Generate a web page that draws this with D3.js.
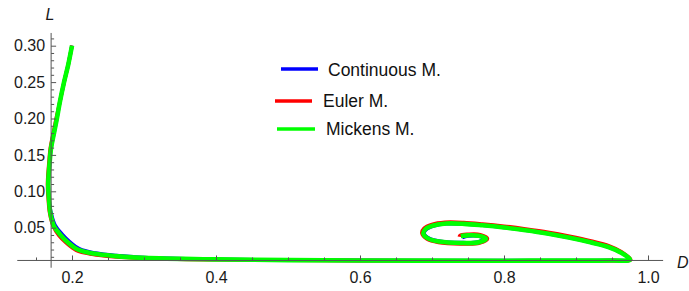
<!DOCTYPE html>
<html>
<head>
<meta charset="utf-8">
<script src="https://cdn.jsdelivr.net/npm/d3@7"></script>
<style>
  html, body { margin: 0; padding: 0; background: #fff; }
  svg { display: block; font-family: "Liberation Sans", Arial, sans-serif; }
</style>
</head>
<body>
<svg id="chart" width="689" height="291"></svg>
<script>
// ---------------- DATA ----------------
const xMajorTicks = [0.2, 0.4, 0.6, 0.8, 1.0];
const xMinorTicks = [0.15, 0.25, 0.3, 0.35, 0.45, 0.5, 0.55, 0.65, 0.7, 0.75, 0.85, 0.9, 0.95];
const yMajorTicks = [0.05, 0.10, 0.15, 0.20, 0.25, 0.30];
const yMinorTicks = [0.01,0.02,0.03,0.04,0.06,0.07,0.08,0.09,0.11,0.12,0.13,0.14,0.16,0.17,0.18,0.19,0.21,0.22,0.23,0.24,0.26,0.27,0.28,0.29,0.31];

const seriesNames = ["Continuous M.", "Euler M.", "Mickens M."];
const seriesColors = ["#0000ff", "#ff0000", "#00ff00"];

// Continuous model trajectory (D, L)
const contD = [0.200,0.195,0.189,0.183,0.179,0.175,0.171,0.169,0.167,0.168,0.171,0.1768,0.1865,0.1965,0.2105,0.2325,0.2615,0.300,0.400,0.500,0.600,0.700,0.800,0.900,0.950,0.975,0.962,0.945,0.920,0.890,0.860,0.830,0.800,0.770,0.745,0.720,0.703,0.692,0.689,0.696,0.711,0.740,0.764,0.773,0.764,0.750,0.742];
const contL = [0.300,0.275,0.250,0.222,0.200,0.180,0.160,0.140,0.110,0.090,0.070,0.0528,0.0408,0.0308,0.0208,0.0152,0.0116,0.0089,0.0066,0.0056,0.0051,0.0049,0.0048,0.0049,0.0051,0.006,0.016,0.0235,0.030,0.0365,0.042,0.0465,0.0503,0.0533,0.0551,0.0554,0.0525,0.0475,0.042,0.0355,0.0315,0.0295,0.0305,0.035,0.0385,0.0385,0.0365];

// Euler model trajectory (D, L)
const eulerD = [0.200,0.195,0.189,0.183,0.178,0.174,0.170,0.168,0.166,0.167,0.169,0.174,0.182,0.192,0.206,0.228,0.258,0.300,0.400,0.500,0.600,0.700,0.800,0.900,0.950,0.976,0.963,0.946,0.921,0.891,0.861,0.830,0.800,0.770,0.744,0.718,0.700,0.689,0.686,0.693,0.709,0.740,0.766,0.777,0.767,0.750,0.739,0.738];
const eulerL = [0.300,0.275,0.250,0.222,0.200,0.180,0.160,0.140,0.110,0.090,0.070,0.052,0.039,0.029,0.019,0.0135,0.010,0.0078,0.006,0.0052,0.0048,0.0046,0.0045,0.0046,0.0048,0.006,0.017,0.025,0.0318,0.0383,0.0438,0.0483,0.0521,0.0551,0.0571,0.0574,0.0545,0.0492,0.0425,0.0345,0.0298,0.0278,0.0288,0.035,0.0405,0.041,0.0395,0.0375];

// Mickens model trajectory (D, L)
const mickD = [0.200,0.195,0.189,0.183,0.179,0.175,0.171,0.169,0.167,0.168,0.170,0.175,0.184,0.194,0.208,0.230,0.260,0.300,0.400,0.500,0.600,0.700,0.800,0.900,0.950,0.975,0.962,0.945,0.920,0.890,0.860,0.830,0.800,0.770,0.745,0.720,0.702,0.691,0.688,0.695,0.710,0.740,0.765,0.775,0.765,0.750,0.740];
const mickL = [0.300,0.275,0.250,0.222,0.200,0.180,0.160,0.140,0.110,0.090,0.070,0.052,0.040,0.030,0.020,0.0145,0.011,0.0085,0.0065,0.0055,0.005,0.0048,0.0047,0.0048,0.005,0.006,0.016,0.0235,0.030,0.0365,0.042,0.0465,0.0503,0.0533,0.0553,0.0558,0.053,0.048,0.042,0.035,0.031,0.029,0.030,0.035,0.039,0.0395,0.0385];

// ---------------- CHART ----------------
const svg = d3.select("#chart");
const x = d3.scaleLinear().domain([0.2, 1.0]).range([72, 648]);
const y = d3.scaleLinear().domain([0, 0.30]).range([264.1, 45.7]);

const xDomainFull = [0.124, 1.021];
const yDomainFull = [-0.005, 0.3175];
const axisOriginX = 0.171;
const axisOriginY = 0.005;

const zip = (a, b) => a.map((v, i) => [v, b[i]]);
const series = [zip(contD, contL), zip(eulerD, eulerL), zip(mickD, mickL)];
const widths = [3.6, 3.6, 4.6];

const line = d3.line()
  .x(d => x(d[0]))
  .y(d => y(d[1]))
  .curve(d3.curveCatmullRom.alpha(0.5));

const g = svg.append("g");
series.forEach((s, i) => {
  g.append("path")
    .attr("d", line(s))
    .attr("fill", "none")
    .attr("stroke", seriesColors[i])
    .attr("stroke-width", widths[i])
    .attr("stroke-linejoin", "round")
    .attr("stroke-linecap", "butt");
});

// axes
const axisColor = "#555";
const ax0 = y(axisOriginY), ay0 = x(axisOriginX);

svg.append("line")
  .attr("x1", x(xDomainFull[0])).attr("x2", x(xDomainFull[1]))
  .attr("y1", ax0).attr("y2", ax0)
  .attr("stroke", axisColor).attr("stroke-width", 1);
svg.append("line")
  .attr("x1", ay0).attr("x2", ay0)
  .attr("y1", y(yDomainFull[0])).attr("y2", y(yDomainFull[1]))
  .attr("stroke", axisColor).attr("stroke-width", 1);

function styleTicks(sel) {
  sel.select(".domain").remove();
  sel.selectAll(".tick line").attr("stroke", axisColor);
}

// x ticks (pointing up)
svg.append("g").attr("transform", `translate(0,${ax0})`)
  .call(d3.axisTop(x).tickValues(xMajorTicks).tickSize(5).tickFormat(""))
  .call(styleTicks);
svg.append("g").attr("transform", `translate(0,${ax0})`)
  .call(d3.axisTop(x).tickValues(xMinorTicks).tickSize(3).tickFormat(""))
  .call(styleTicks);
// x labels
svg.append("g").attr("transform", `translate(0,${ax0})`)
  .call(d3.axisBottom(x).tickValues(xMajorTicks).tickSize(0).tickPadding(11).tickFormat(d3.format(".1f")))
  .call(styleTicks)
  .call(s => s.selectAll("text").attr("fill", "#1a1a1a").style("font-size", "16px").attr("font-family", null));

// y ticks (pointing right)
svg.append("g").attr("transform", `translate(${ay0},0)`)
  .call(d3.axisRight(y).tickValues(yMajorTicks).tickSize(5).tickFormat(""))
  .call(styleTicks);
svg.append("g").attr("transform", `translate(${ay0},0)`)
  .call(d3.axisRight(y).tickValues(yMinorTicks).tickSize(3).tickFormat(""))
  .call(styleTicks);
// y labels
svg.append("g").attr("transform", `translate(${ay0},0)`)
  .call(d3.axisLeft(y).tickValues(yMajorTicks).tickSize(0).tickPadding(6).tickFormat(d3.format(".2f")))
  .call(styleTicks)
  .call(s => s.selectAll("text").attr("fill", "#1a1a1a").style("font-size", "16px").attr("font-family", null));

// axis labels
svg.append("text").attr("x", 50).attr("y", 20).attr("text-anchor", "middle")
  .style("font-size", "16px").style("font-style", "italic").attr("fill", "#1a1a1a").text("L");
svg.append("text").attr("x", 677).attr("y", 268)
  .style("font-size", "16px").style("font-style", "italic").attr("fill", "#1a1a1a").text("D");

// legend
const legendLines = [[281, 318, 69], [275, 312, 101], [277, 315, 129]];
const legendText = [[328, 76], [323, 107], [326, 135]];
seriesNames.forEach((name, i) => {
  svg.append("line")
    .attr("x1", legendLines[i][0]).attr("x2", legendLines[i][1])
    .attr("y1", legendLines[i][2]).attr("y2", legendLines[i][2])
    .attr("stroke", seriesColors[i]).attr("stroke-width", 3.5);
  svg.append("text")
    .attr("x", legendText[i][0]).attr("y", legendText[i][1])
    .style("font-size", "17.5px").attr("fill", "#111").text(name);
});
</script>
</body>
</html>
